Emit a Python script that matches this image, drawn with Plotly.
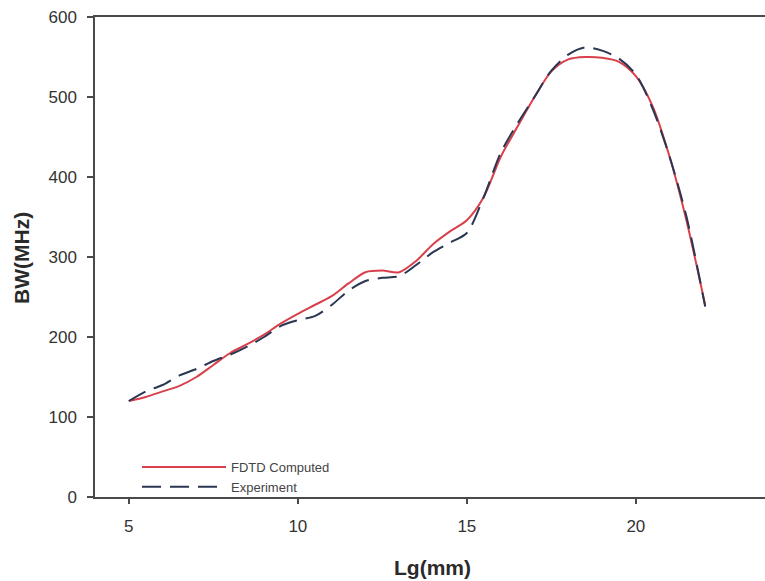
import plotly.graph_objects as go

# Bandwidth versus ground-plane length Lg
lg_fdtd = [5.0, 5.5, 6.0, 6.5, 7.0, 7.5, 8.0, 8.5, 9.0, 9.5, 10.0, 10.5, 11.0, 11.5,
           12.0, 12.5, 13.0, 13.5, 14.0, 14.5, 15.0, 15.5, 16.0, 16.5, 17.0, 17.5,
           18.0, 18.5, 19.0, 19.5, 20.0, 20.5, 21.0, 21.5, 22.05]
bw_fdtd = [120, 125, 132, 139, 150, 165, 180, 191, 203, 217, 229, 240, 251, 267,
           281, 283, 281, 295, 316, 332, 346, 375, 425, 463, 500, 532,
           547, 550, 549, 544, 526, 488, 425, 345, 240]

lg_exp = [5.0, 5.5, 6.0, 6.5, 7.0, 7.5, 8.0, 8.5, 9.0, 9.5, 10.0, 10.5, 11.0, 11.5,
          12.0, 12.5, 13.0, 13.5, 14.0, 14.5, 15.0, 15.5, 16.0, 16.5, 17.0, 17.5,
          18.0, 18.5, 19.0, 19.5, 20.0, 20.5, 21.0, 21.5, 22.05]
bw_exp = [120, 132, 140, 152, 160, 170, 178, 188, 200, 214, 221, 226, 240, 258,
          270, 274, 276, 290, 306, 318, 330, 375, 430, 467, 500, 533,
          553, 562, 558, 548, 528, 485, 425, 350, 238]

x_ticks = [5, 10, 15, 20]
y_ticks = [0, 100, 200, 300, 400, 500, 600]

RED = "#d8404c"
NAVY = "#2b3752"
AXIS = "#4a4a4a"
FONT = "Liberation Sans"

fig = go.Figure()
fig.add_trace(go.Scatter(
    x=lg_fdtd, y=bw_fdtd, mode="lines", name="FDTD Computed",
    line=dict(color=RED, width=2, shape="spline", smoothing=0.8),
))
fig.add_trace(go.Scatter(
    x=lg_exp, y=bw_exp, mode="lines", name="Experiment",
    line=dict(color=NAVY, width=2, dash="19px,9px", shape="spline", smoothing=0.8),
))

L, T, B = 95, 17, 84
W, H = 765, 581
pw, ph = W - L, H - T - B

fig.update_layout(
    width=W, height=H,
    margin=dict(l=L, r=0, t=T, b=B, pad=0),
    paper_bgcolor="white", plot_bgcolor="white",
    font=dict(family=FONT, color="#333333"),
    showlegend=True,
    legend=dict(
        x=(137 - L) / pw, y=(497 - 452) / ph, xanchor="left", yanchor="top",
        bgcolor="rgba(0,0,0,0)", itemwidth=84, tracegroupgap=0,
        font=dict(family=FONT, size=13, color="#444444"),
    ),
    xaxis=dict(
        range=[4.0, 23.82], tickvals=x_ticks, ticks="outside", ticklen=5,
        tickwidth=1.5, tickcolor=AXIS, showline=True, linecolor=AXIS, linewidth=1.5,
        mirror=True, showgrid=False, zeroline=False,
        tickfont=dict(family=FONT, size=17, color="#333333"), ticklabelstandoff=8,
    ),
    yaxis=dict(
        range=[0, 600], tickvals=y_ticks, ticks="outside", ticklen=6,
        tickwidth=1.5, tickcolor=AXIS, showline=True, linecolor=AXIS, linewidth=1.5,
        showgrid=False, zeroline=False,
        tickfont=dict(family=FONT, size=17, color="#333333"), ticklabelstandoff=7,
    ),
    annotations=[
        dict(text="<b>BW(MHz)</b>", xref="paper", yref="paper",
             x=(21 - L) / pw, y=(497 - 258) / ph, xanchor="center", yanchor="middle",
             textangle=-90, showarrow=False,
             font=dict(family=FONT, size=21, color="#2a2a2a")),
        dict(text="<b>Lg(mm)</b>", xref="paper", yref="paper",
             x=(432 - L) / pw, y=(497 - 567) / ph, xanchor="center", yanchor="middle",
             showarrow=False,
             font=dict(family=FONT, size=21, color="#2a2a2a")),
    ],
)

fig.write_html("out.html")
